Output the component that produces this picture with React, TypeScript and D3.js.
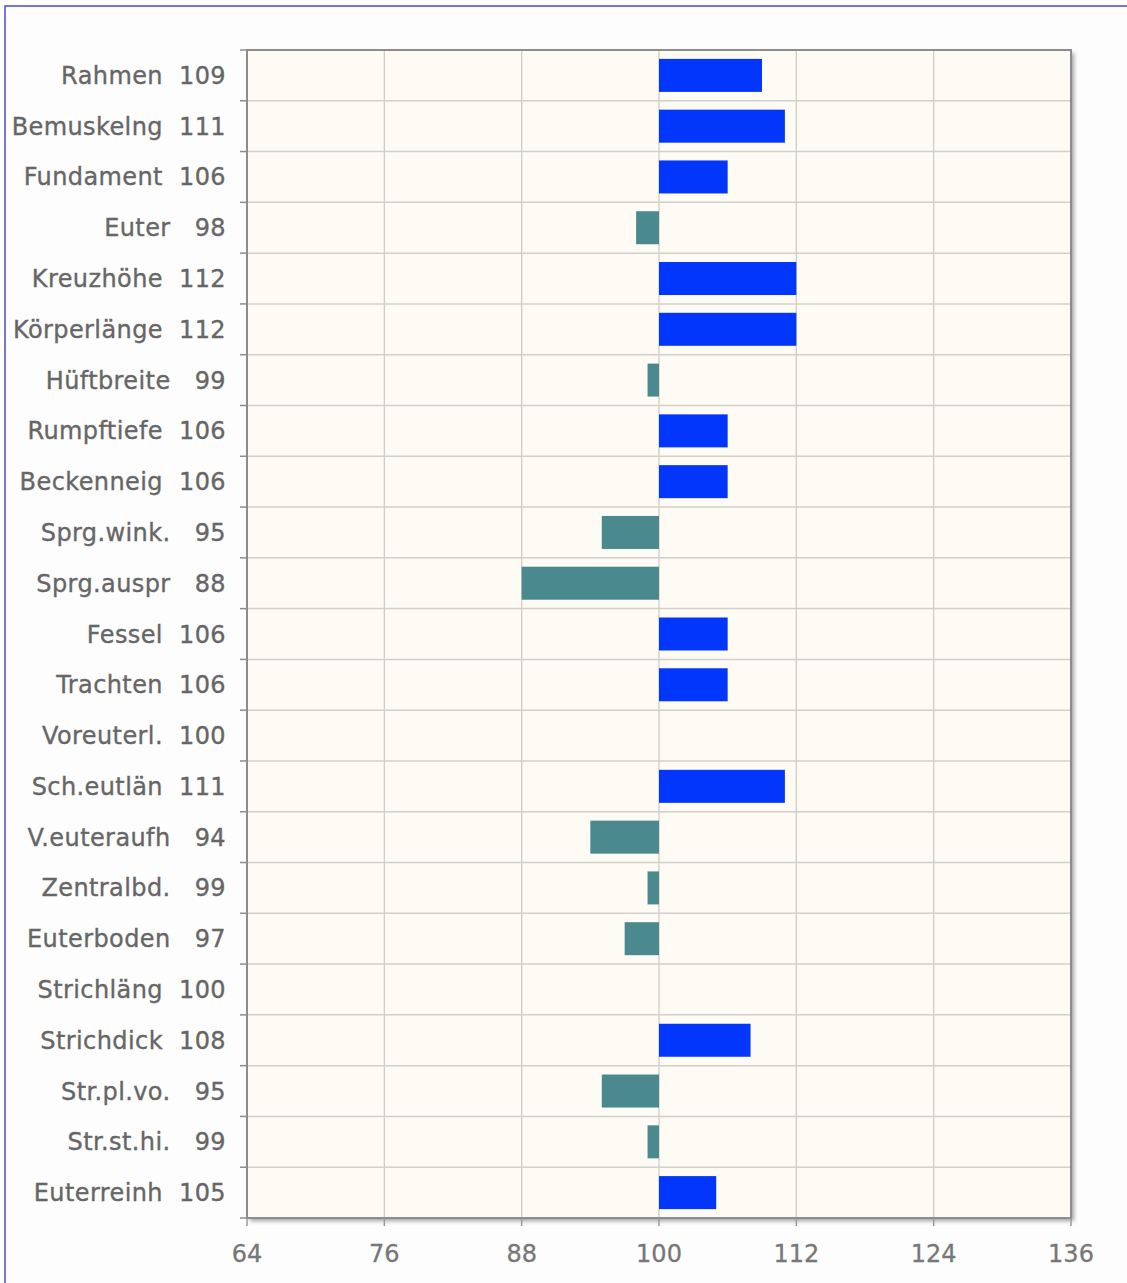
import React from "react";
import * as d3 from "d3";

const categories = [
  "Rahmen", "Bemuskelng", "Fundament", "Euter", "Kreuzhöhe", "Körperlänge",
  "Hüftbreite", "Rumpftiefe", "Beckenneig", "Sprg.wink.", "Sprg.auspr", "Fessel",
  "Trachten", "Voreuterl.", "Sch.eutlän", "V.euteraufh", "Zentralbd.", "Euterboden",
  "Strichläng", "Strichdick", "Str.pl.vo.", "Str.st.hi.", "Euterreinh",
];
const values = [
  109, 111, 106, 98, 112, 112, 99, 106, 106, 95, 88, 106,
  106, 100, 111, 94, 99, 97, 100, 108, 95, 99, 105,
];
const xTicks = [64, 76, 88, 100, 112, 124, 136];
const baseline = 100;

const W = 1127;
const H = 1283;
const plot = { left: 247, right: 1071, top: 50, bottom: 1218 };

export default function App() {
  const x = d3.scaleLinear().domain([64, 136]).range([plot.left, plot.right]);
  const y = d3
    .scaleBand<string>()
    .domain(categories)
    .range([plot.top, plot.bottom])
    .paddingInner(0.35)
    .paddingOuter(0.175);
  const step = y.step();
  const rowEdges = d3.range(categories.length + 1).map((i) => plot.top + i * step);
  const font = "'DejaVu Sans', Verdana, sans-serif";

  return (
    <svg
      width={W}
      height={H}
      style={{ position: "absolute", left: 0, top: 0, display: "block" }}
    >
      <defs>
        <filter id="shadow" x="-5%" y="-5%" width="110%" height="110%">
          <feGaussianBlur stdDeviation="2" />
        </filter>
      </defs>
      <rect x={0} y={0} width={W} height={H} fill="#ffffff" />
      <rect x={5} y={6} width={W + 20} height={H + 20} fill="#fdfdfd" stroke="#4b4bc8" strokeWidth={1.5} />

      {/* shadow */}
      <rect
        x={plot.left + 3}
        y={plot.top + 3}
        width={plot.right - plot.left}
        height={plot.bottom - plot.top}
        fill="#a0a0a0"
        filter="url(#shadow)"
      />
      <rect
        x={plot.left}
        y={plot.top}
        width={plot.right - plot.left}
        height={plot.bottom - plot.top}
        fill="#fdfbf4"
      />

      {/* vertical grid */}
      {xTicks.slice(1, -1).map((t) => (
        <line key={"vg" + t} x1={x(t)} x2={x(t)} y1={plot.top} y2={plot.bottom} stroke="#cfcdc6" strokeWidth={1.3} />
      ))}
      {/* horizontal grid */}
      {rowEdges.slice(1, -1).map((yy, i) => (
        <line key={"hg" + i} x1={plot.left} x2={plot.right} y1={yy} y2={yy} stroke="#d2d0c9" strokeWidth={1.5} />
      ))}

      {/* bars */}
      {categories.map((c, i) => {
        const v = values[i];
        if (v === baseline) return null;
        const x0 = x(Math.min(v, baseline));
        const x1 = x(Math.max(v, baseline));
        return (
          <rect
            key={"b" + c}
            x={x0}
            y={y(c)}
            width={x1 - x0}
            height={y.bandwidth()}
            fill={v > baseline ? "#0336fb" : "#4a898d"}
          />
        );
      })}

      {/* frame */}
      <rect
        x={plot.left}
        y={plot.top}
        width={plot.right - plot.left}
        height={plot.bottom - plot.top}
        fill="none"
        stroke="#8c8c8c"
        strokeWidth={2}
      />

      {/* left ticks */}
      {rowEdges.map((yy, i) => (
        <line key={"lt" + i} x1={plot.left - 7} x2={plot.left} y1={yy} y2={yy} stroke="#8c8c8c" strokeWidth={1.5} />
      ))}
      {/* bottom ticks */}
      {xTicks.map((t) => (
        <line key={"bt" + t} x1={x(t)} x2={x(t)} y1={plot.bottom} y2={plot.bottom + 8} stroke="#9a9a9a" strokeWidth={1.5} />
      ))}

      {/* category labels */}
      {categories.map((c, i) => {
        const v = values[i];
        const vs = v >= 100 ? "  " + String(v) : "   " + String(v);
        return (
          <text
            key={"l" + c}
            x={226}
            y={(y(c) as number) + y.bandwidth() / 2 + 8.5}
            textAnchor="end"
            fontFamily={font}
            fontSize={24}
            letterSpacing={0.4}
            fill="#666666"
            stroke="#666666"
            strokeWidth={0.35}
            style={{ whiteSpace: "pre" }}
          >
            {c + vs}
          </text>
        );
      })}

      {/* x tick labels */}
      {xTicks.map((t) => (
        <text
          key={"xl" + t}
          x={x(t)}
          y={1262}
          textAnchor="middle"
          fontFamily={font}
          fontSize={24}
          fill="#777777"
          stroke="#777777"
          strokeWidth={0.3}
        >
          {t}
        </text>
      ))}
    </svg>
  );
}
